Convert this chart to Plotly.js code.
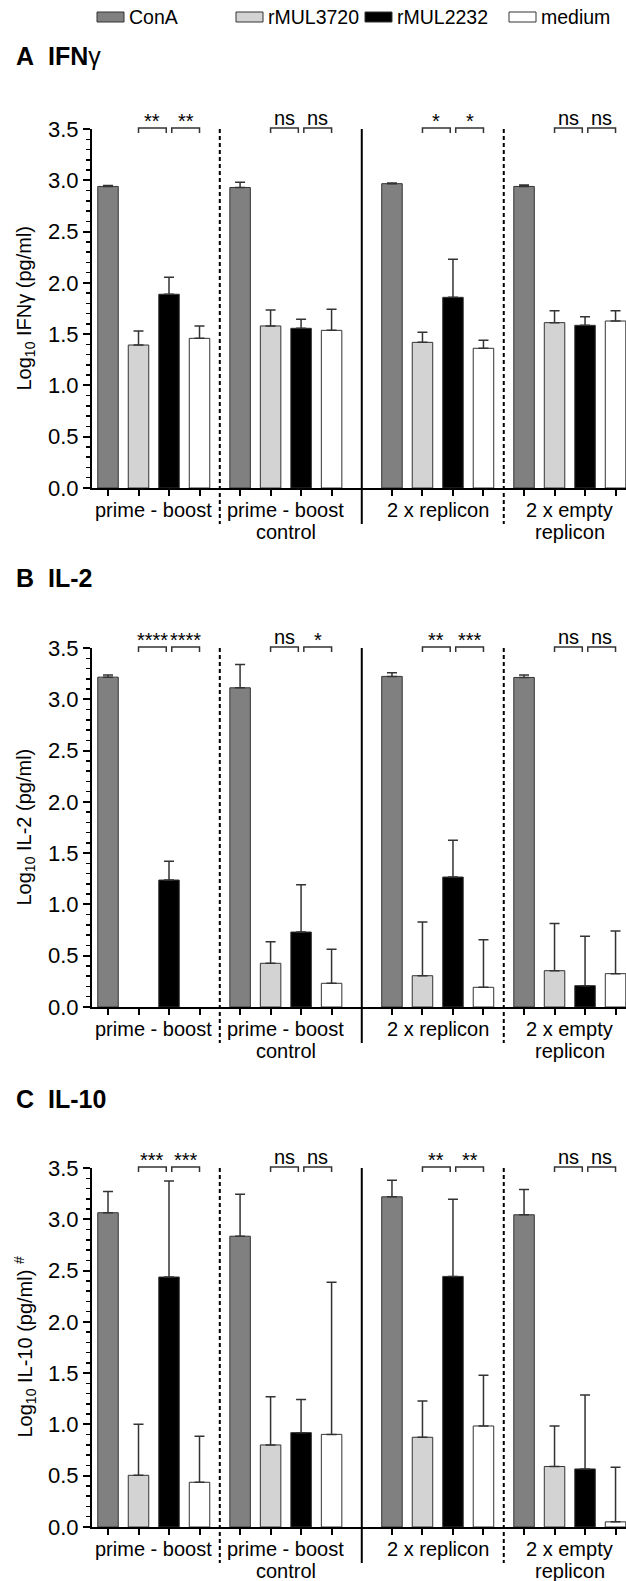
<!DOCTYPE html>
<html><head><meta charset="utf-8">
<script src="https://cdn.plot.ly/plotly-3.0.1.min.js"></script>
<style>html,body{margin:0;padding:0;background:#fff}#chart{width:626px;height:1581px}</style>
</head><body><div id="chart"></div>
<script>
// ---------- DATA ----------
const groups = ['prime - boost', 'prime - boost|control', '2 x replicon', '2 x empty|replicon'];
const series = ['ConA', 'rMUL3720', 'rMUL2232', 'medium'];

// A: IFN-gamma (log10 pg/ml), mean and upper SD per group
const ifng_ConA      = [2.94, 2.93, 2.967, 2.94];
const ifng_ConA_sd   = [0.01, 0.05, 0.006, 0.014];
const ifng_3720      = [1.394, 1.58, 1.42, 1.612];
const ifng_3720_sd   = [0.136, 0.155, 0.098, 0.117];
const ifng_2232      = [1.889, 1.557, 1.859, 1.586];
const ifng_2232_sd   = [0.165, 0.088, 0.371, 0.084];
const ifng_medium    = [1.459, 1.537, 1.362, 1.628];
const ifng_medium_sd = [0.121, 0.205, 0.078, 0.101];
const ifng_sig       = [['**','**'], ['ns','ns'], ['*','*'], ['ns','ns']];

// B: IL-2
const il2_ConA      = [3.216, 3.112, 3.223, 3.213];
const il2_ConA_sd   = [0.02, 0.228, 0.035, 0.023];
const il2_3720      = [null, 0.426, 0.305, 0.354];
const il2_3720_sd   = [null, 0.211, 0.523, 0.461];
const il2_2232      = [1.238, 0.731, 1.267, 0.208];
const il2_2232_sd   = [0.182, 0.461, 0.358, 0.481];
const il2_medium    = [null, 0.231, 0.192, 0.325];
const il2_medium_sd = [null, 0.331, 0.464, 0.415];
const il2_sig       = [['****','****'], ['ns','*'], ['**','***'], ['ns','ns']];

// C: IL-10
const il10_ConA      = [3.064, 2.835, 3.219, 3.044];
const il10_ConA_sd   = [0.206, 0.408, 0.161, 0.246];
const il10_3720      = [0.504, 0.80, 0.875, 0.59];
const il10_3720_sd   = [0.498, 0.47, 0.354, 0.395];
const il10_2232      = [2.437, 0.92, 2.443, 0.566];
const il10_2232_sd   = [0.936, 0.322, 0.752, 0.721];
const il10_medium    = [0.436, 0.903, 0.985, 0.05];
const il10_medium_sd = [0.449, 1.482, 0.494, 0.533];
const il10_sig       = [['***','***'], ['ns','ns'], ['**','**'], ['ns','ns']];

const yTicks = [0, 0.5, 1.0, 1.5, 2.0, 2.5, 3.0, 3.5];

// ---------- STYLE / LAYOUT ----------
const W = 626, H = 1581;
const FONT = 'Arial, "Liberation Sans", sans-serif';
const colors = {ConA:'#808080', rMUL3720:'#d3d3d3', rMUL2232:'#000000', medium:'#ffffff'};
const groupOffset = [0, 0.33, 1.31, 1.64];
const dividerStyle = ['dash', 'solid', 'dash'];
const PLOT_L = 92, PLOT_R = 626;
const XR0 = -0.525, XR1 = 16.983;
const BAR_W = 0.672;

function pos(g, s) { return g * 4 + s + groupOffset[g]; }
function xpx(v) { return PLOT_L + (v - XR0) / (XR1 - XR0) * (PLOT_R - PLOT_L); }
function px2x(p) { return p / W; }
function px2y(p) { return 1 - p / H; }

const panels = [
  {letter:'A', name:'IFN', nameExtra:'γ', ytitle:'Log<sub>10</sub> IFNγ (pg/ml)', top:129, bottom:488, titleY:56,
   vals:[ifng_ConA, ifng_3720, ifng_2232, ifng_medium], sds:[ifng_ConA_sd, ifng_3720_sd, ifng_2232_sd, ifng_medium_sd], sig:ifng_sig},
  {letter:'B', name:'IL-2', nameExtra:'', ytitle:'Log<sub>10</sub> IL-2 (pg/ml)', top:648, bottom:1007, titleY:578,
   vals:[il2_ConA, il2_3720, il2_2232, il2_medium], sds:[il2_ConA_sd, il2_3720_sd, il2_2232_sd, il2_medium_sd], sig:il2_sig},
  {letter:'C', name:'IL-10', nameExtra:'', ytitle:'Log<sub>10</sub> IL-10 (pg/ml) <sup>#</sup>', top:1168, bottom:1527, titleY:1099,
   vals:[il10_ConA, il10_3720, il10_2232, il10_medium], sds:[il10_ConA_sd, il10_3720_sd, il10_2232_sd, il10_medium_sd], sig:il10_sig}
];

const traces = [];
const shapes = [];
const annotations = [];
const layout = {
  width: W, height: H, margin: {l:0, r:0, t:0, b:0},
  paper_bgcolor: '#fff', plot_bgcolor: 'rgba(0,0,0,0)',
  barmode: 'overlay', showlegend: false,
  font: {family: FONT, color: '#000', size: 19}
};

const allPos = [];
for (let g = 0; g < 4; g++) for (let s = 0; s < 4; s++) allPos.push(pos(g, s));

panels.forEach((p, i) => {
  const n = i === 0 ? '' : String(i + 1);
  const xa = 'x' + n, ya = 'y' + n;

  series.forEach((sName, s) => {
    traces.push({
      type: 'bar', xaxis: xa, yaxis: ya,
      x: groups.map((_, g) => pos(g, s)),
      y: p.vals[s], width: BAR_W,
      marker: {color: colors[sName], line: {color: '#333', width: 1}},
      error_y: {type: 'data', symmetric: false, array: p.sds[s], arrayminus: p.sds[s].map(v => v == null ? null : 0),
                color: '#333', thickness: 1.5, width: 5},
      hoverinfo: 'skip', name: sName
    });
  });

  layout['xaxis' + n] = {
    domain: [PLOT_L / W, PLOT_R / W], anchor: ya, range: [XR0, XR1],
    tickmode: 'array', tickvals: allPos, showticklabels: false,
    ticks: 'outside', ticklen: 6, tickwidth: 2, tickcolor: '#000',
    showline: true, linewidth: 2, linecolor: '#000', showgrid: false, zeroline: false, fixedrange: true
  };
  layout['yaxis' + n] = {
    domain: [px2y(p.bottom), px2y(p.top)], anchor: xa, range: [0, 3.5],
    tickmode: 'array', tickvals: yTicks, ticktext: yTicks.map(v => v.toFixed(1)),
    ticks: 'outside', ticklen: 7, tickwidth: 2, tickcolor: '#000',
    tickfont: {family: FONT, size: 22, color: '#000'},
    minor: {dtick: 0.1, ticks: 'outside', ticklen: 4, tickwidth: 1.5, tickcolor: '#000'},
    showline: true, linewidth: 2, linecolor: '#000', showgrid: false, zeroline: false, fixedrange: true
  };

  // y-axis title
  annotations.push({xref: 'paper', yref: 'paper', x: px2x(25), y: px2y((p.top + p.bottom) / 2),
    text: p.ytitle, textangle: -90, showarrow: false, xanchor: 'center', yanchor: 'middle',
    font: {family: FONT, size: 20, color: '#000'}});

  // panel title
  annotations.push({xref: 'paper', yref: 'paper', x: px2x(14), y: px2y(p.titleY),
    text: '<b>' + p.letter + '\u00a0\u00a0' + p.name + '</b>' + p.nameExtra, showarrow: false,
    xanchor: 'left', yanchor: 'middle', font: {family: FONT, size: 25, color: '#000'}});

  // group labels
  groups.forEach((gl, g) => {
    const cx = (pos(g, 1) + pos(g, 2)) / 2;
    gl.split('|').forEach((line, li) => {
      annotations.push({xref: xa, yref: 'paper', x: cx, y: px2y(p.bottom + 22 + li * 22),
        text: line, showarrow: false, xanchor: 'center', yanchor: 'middle',
        font: {family: FONT, size: 20, color: '#000'}});
    });
  });

  // dividers between groups
  for (let g = 0; g < 3; g++) {
    const xm = (pos(g, 3) + pos(g + 1, 0)) / 2;
    shapes.push({type: 'line', xref: 'paper', yref: 'paper',
      x0: px2x(xpx(xm)), x1: px2x(xpx(xm)), y0: px2y(p.top), y1: px2y(p.bottom + 36),
      line: {color: '#000', width: 2, dash: dividerStyle[g] === 'dash' ? '4px,3px' : 'solid'}});
  }

  // significance brackets
  const yTop = p.top - 1, yLeg = p.top + 4;
  groups.forEach((_, g) => {
    const pairs = [[pos(g, 1), pos(g, 2) - 0.09], [pos(g, 2) + 0.09, pos(g, 3)]];
    pairs.forEach((pr, k) => {
      const a = xpx(pr[0]), b = xpx(pr[1]);
      shapes.push({type: 'path', xref: 'paper', yref: 'paper',
        path: `M${px2x(a)},${px2y(yLeg)} L${px2x(a)},${px2y(yTop)} L${px2x(b)},${px2y(yTop)} L${px2x(b)},${px2y(yLeg)}`,
        line: {color: '#333', width: 1.5}});
      const txt = p.sig[g][k];
      const isStar = txt.indexOf('*') >= 0;
      annotations.push({xref: 'paper', yref: 'paper', x: px2x((a + b) / 2), y: px2y(yTop - (isStar ? 7 : 10)),
        text: txt, showarrow: false, xanchor: 'center', yanchor: 'middle',
        font: {family: FONT, size: 20, color: '#000'}});
    });
  });
});

// custom legend
const legendItems = [
  {name: 'ConA', x: 97}, {name: 'rMUL3720', x: 236}, {name: 'rMUL2232', x: 365}, {name: 'medium', x: 509}
];
legendItems.forEach((it, k) => {
  shapes.push({type: 'rect', xref: 'paper', yref: 'paper',
    x0: px2x(it.x), x1: px2x(it.x + 27), y0: px2y(12), y1: px2y(22),
    fillcolor: colors[series[k]], line: {color: '#333', width: 1}});
  annotations.push({xref: 'paper', yref: 'paper', x: px2x(it.x + 30), y: px2y(17),
    text: series[k], showarrow: false, xanchor: 'left', yanchor: 'middle',
    font: {family: FONT, size: 19.5, color: '#000'}});
});

layout.shapes = shapes;
layout.annotations = annotations;
Plotly.newPlot('chart', traces, layout, {staticPlot: true});
</script>
</body></html>
